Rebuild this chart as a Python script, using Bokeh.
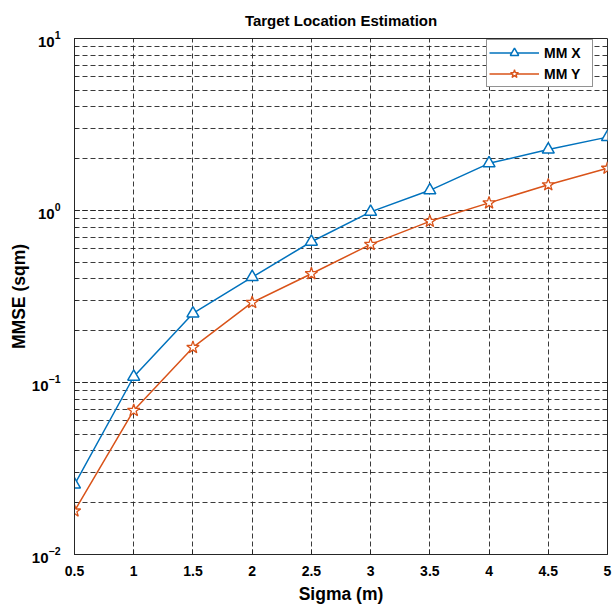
from bokeh.plotting import figure
from bokeh.models import Range1d, FixedTicker, LogTicker, Legend
from bokeh.embed import file_html
from bokeh.resources import INLINE

# Data
sigma = [0.5, 1.0, 1.5, 2.0, 2.5, 3.0, 3.5, 4.0, 4.5, 5.0]
mm_x = [0.0255, 0.108, 0.252, 0.41, 0.658, 0.982, 1.31, 1.88, 2.26, 2.67]
mm_y = [0.0179, 0.0688, 0.160, 0.292, 0.429, 0.635, 0.865, 1.107, 1.41, 1.76]
x_ticks = [0.5, 1, 1.5, 2, 2.5, 3, 3.5, 4, 4.5, 5]

title_text = "Target Location Estimation"
x_label = "Sigma (m)"
y_label = "MMSE (sqm)"
series_names = ["MM X", "MM Y"]

BLUE = "#0072BD"
ORANGE = "#D95319"
FONT = "Liberation Sans"
AX = "#262626"

p = figure(width=612, height=606, y_axis_type="log",
           x_range=Range1d(0.5, 5), y_range=Range1d(0.01, 10),
           output_backend="svg", toolbar_location=None,
           min_border_left=74, min_border_right=5,
           min_border_top=37, min_border_bottom=47,
           title=title_text)

p.background_fill_color = "white"
p.border_fill_color = "white"
p.outline_line_color = AX
p.outline_line_width = 1

p.title.align = "center"
p.title.text_font = FONT
p.title.text_font_style = "bold"
p.title.text_font_size = "15px"
p.title.text_color = "black"
p.title.standoff = 19

# axes
p.xaxis.ticker = FixedTicker(ticks=x_ticks)
p.yaxis.ticker = LogTicker(num_minor_ticks=10)
for ax in (p.xaxis[0], p.yaxis[0]):
    ax.axis_line_color = AX
    ax.major_tick_line_color = AX
    ax.minor_tick_line_color = AX
    ax.major_tick_in = 5
    ax.major_tick_out = 0
    ax.minor_tick_in = 3
    ax.minor_tick_out = 0
    ax.major_label_text_font = FONT
    ax.major_label_text_font_style = "bold"
    ax.major_label_text_font_size = "14px"
    ax.major_label_text_color = "black"
    ax.axis_label_text_font = FONT
    ax.axis_label_text_font_style = "bold"
    ax.axis_label_text_font_size = "17.5px"
    ax.axis_label_text_color = "black"
p.yaxis.major_label_text_font_size = "15px"
p.xaxis.axis_label = x_label
p.yaxis.axis_label = y_label
p.xaxis.major_label_standoff = 11
p.xaxis.axis_label_standoff = 5
p.yaxis.major_label_standoff = 14
p.yaxis.axis_label_standoff = 0

# grids
p.xgrid.grid_line_color = AX
p.xgrid.grid_line_dash = "5 3"
p.xgrid.grid_line_alpha = 0.9
p.ygrid.grid_line_color = AX
p.ygrid.grid_line_dash = "5 3"
p.ygrid.grid_line_alpha = 0.9
p.ygrid.minor_grid_line_color = AX
p.ygrid.minor_grid_line_dash = "5 3"
p.ygrid.minor_grid_line_alpha = 0.9

# series
lx = p.line(sigma, mm_x, line_color=BLUE, line_width=1.5)
sx = p.scatter(sigma, mm_x, marker="triangle", size=12, line_color=BLUE,
               line_width=1.5, fill_color="white")
ly = p.line(sigma, mm_y, line_color=ORANGE, line_width=1.5)
sy = p.scatter(sigma, mm_y, marker="star", size=13, line_color=ORANGE,
               line_width=1.3, fill_color="white")

legend = Legend(items=[(series_names[0], [lx, sx]), (series_names[1], [ly, sy])],
                location=(412, 467), margin=0, padding=2, spacing=0,
                glyph_width=50, glyph_height=21, label_height=21,
                label_width=46, label_standoff=5,
                label_text_font=FONT, label_text_font_style="bold",
                label_text_font_size="14px", label_text_color="black",
                border_line_color=AX, border_line_width=1,
                background_fill_color="white", background_fill_alpha=1)
p.add_layout(legend)

open("out.html", "w").write(file_html(p, INLINE))
